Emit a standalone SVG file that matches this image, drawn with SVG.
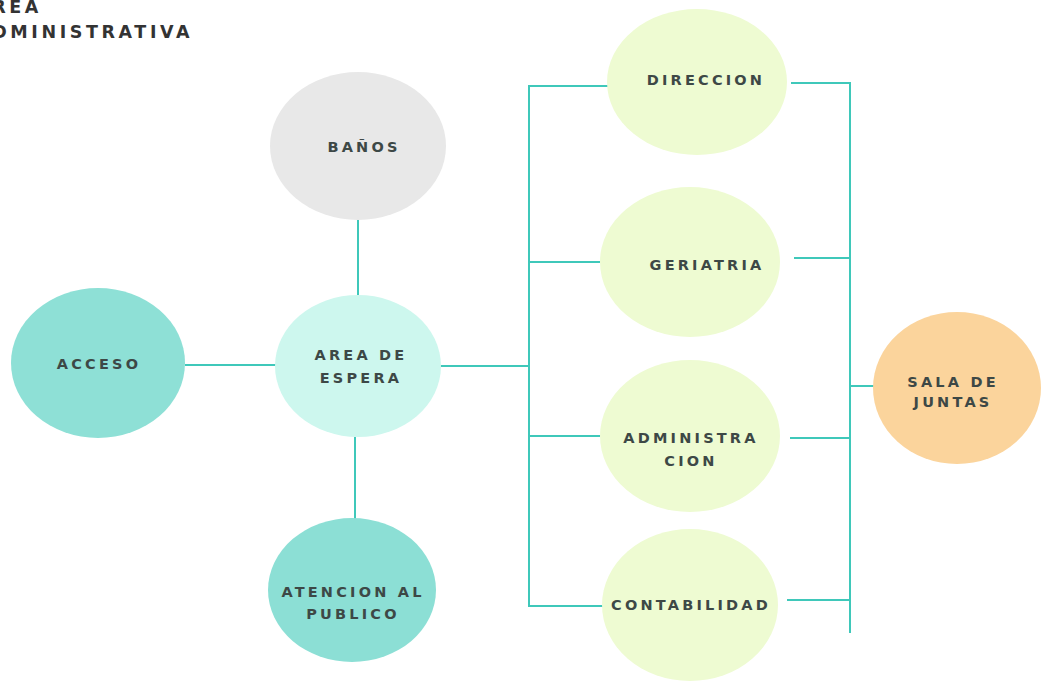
<svg xmlns="http://www.w3.org/2000/svg" width="1042" height="681" viewBox="0 0 1042 681">
<style>
.t{font-family:"DejaVu Sans","Liberation Sans",sans-serif;font-weight:bold;font-size:14.5px;letter-spacing:3.2px;text-anchor:middle;fill:#3d4846}
.title{font-family:"DejaVu Sans","Liberation Sans",sans-serif;font-weight:bold;font-size:17.5px;letter-spacing:3.6px;fill:#333}
.c{stroke:#3fc8ba;stroke-width:2;fill:none}
</style>
<rect width="1042" height="681" fill="#fff"/>
<g id="title">
<text class="title" x="-25" y="13">AREA</text>
<text class="title" x="-25" y="38">ADMINISTRATIVA</text>
</g>
<g id="connectors">
<line class="c" x1="358" y1="220" x2="358" y2="297"/>
<line class="c" x1="185" y1="365" x2="277" y2="365"/>
<line class="c" x1="355" y1="437" x2="355" y2="519"/>
<line class="c" x1="440" y1="366" x2="529" y2="366"/>
<polyline class="c" points="609,86 529,86 529,606 603,606"/>
<line class="c" x1="529" y1="262" x2="600" y2="262"/>
<line class="c" x1="529" y1="436" x2="600" y2="436"/>
<polyline class="c" points="791,83 850,83 850,633"/>
<line class="c" x1="794" y1="258" x2="850" y2="258"/>
<line class="c" x1="790" y1="438" x2="850" y2="438"/>
<line class="c" x1="787" y1="600" x2="850" y2="600"/>
<line class="c" x1="850" y1="386" x2="874" y2="386"/>
</g>
<g id="banos"><ellipse cx="358" cy="146" rx="88" ry="74" fill="#e8e8e8"/><text class="t" x="364" y="152">BAÑOS</text></g>
<g id="acceso"><ellipse cx="98" cy="363" rx="87" ry="75" fill="#8ee0d6"/><text class="t" x="99" y="369" fill="#2f5552">ACCESO</text></g>
<g id="espera"><ellipse cx="358" cy="366" rx="83" ry="71" fill="#cdf7ee"/><text class="t" x="361" y="360">AREA DE</text><text class="t" x="361" y="383">ESPERA</text></g>
<g id="atencion"><ellipse cx="352" cy="590" rx="84" ry="72" fill="#8cdfd5"/><text class="t" x="353" y="597">ATENCION AL</text><text class="t" x="353" y="619">PUBLICO</text></g>
<g id="direccion"><ellipse cx="697" cy="82" rx="90" ry="73" fill="#eefbd2"/><text class="t" x="706" y="85">DIRECCION</text></g>
<g id="geriatria"><ellipse cx="690" cy="262" rx="90" ry="75" fill="#eefbd2"/><text class="t" x="707" y="270">GERIATRIA</text></g>
<g id="administracion"><ellipse cx="690" cy="436" rx="90" ry="76" fill="#eefbd2"/><text class="t" x="691" y="443">ADMINISTRA</text><text class="t" x="691" y="466">CION</text></g>
<g id="contabilidad"><ellipse cx="690" cy="605" rx="88" ry="76" fill="#eefbd2"/><text class="t" x="691" y="610">CONTABILIDAD</text></g>
<g id="sala"><ellipse cx="957" cy="388" rx="84" ry="76" fill="#fbd49c"/><text class="t" x="953" y="387" fill="#5e5242">SALA DE</text><text class="t" x="953" y="407" fill="#5e5242">JUNTAS</text></g>
</svg>
